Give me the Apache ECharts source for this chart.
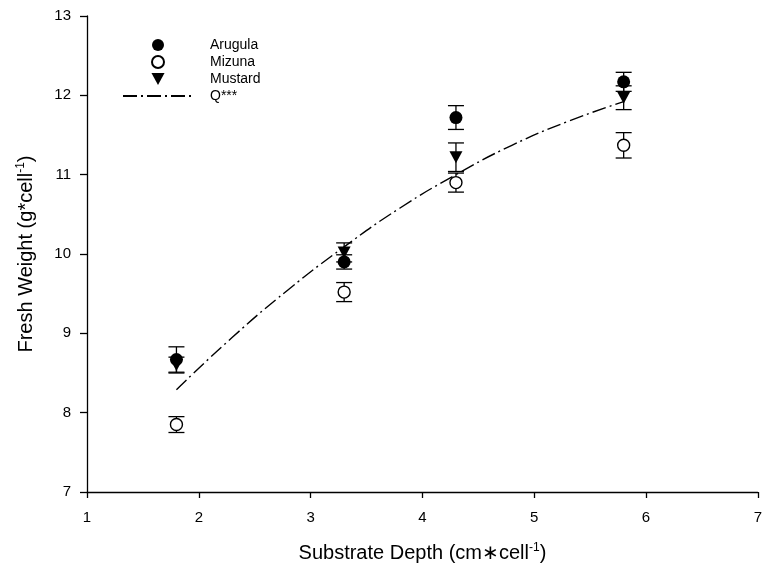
<!DOCTYPE html>
<html>
<head>
<meta charset="utf-8">
<script src="https://cdn.jsdelivr.net/npm/echarts@6/dist/echarts.min.js"></script>
<style>
  html, body { margin: 0; padding: 0; background: #fff; }
  #main { width: 765px; height: 574px; }
</style>
</head>
<body>
<div id="main"></div>
<script>
// substrate depth (cm per cell)
const depths = [1.8, 3.3, 4.3, 5.8];
// means and standard errors
const arugulaMean = [8.67, 9.90, 11.72, 12.17];
const arugulaErr = [0.16, 0.09, 0.15, 0.12];
const mizunaMean = [7.85, 9.52, 10.90, 11.37];
const mizunaErr = [0.10, 0.12, 0.12, 0.16];
const mustardMean = [8.60, 10.02, 11.22, 11.97];
const mustardErr = [0.10, 0.12, 0.18, 0.15];
// quadratic fit line (Q***)
const fitX = [1.8, 2.3, 2.8, 3.3, 3.8, 4.3, 4.8, 5.3, 5.8];
const fitY = [8.29, 8.95, 9.55, 10.09, 10.58, 11.00, 11.37, 11.67, 11.92];

const font = 'Liberation Sans, Arial, sans-serif';

function pairs(xs, ys) {
    return xs.map((x, i) => [x, ys[i]]);
}
function errData(means, errs) {
    return depths.map((x, i) => [x, means[i] - errs[i], means[i] + errs[i]]);
}

// 误差线
function renderErr(params, api) {
    var x = api.value(0);
    var lo = api.coord([x, api.value(1)]);
    var hi = api.coord([x, api.value(2)]);
    var w = 8;
    var style = { stroke: '#000', lineWidth: 1.3 };
    return {
        type: 'group',
        children: [
            { type: 'line', shape: { x1: lo[0], y1: lo[1], x2: hi[0], y2: hi[1] }, style: style },
            { type: 'line', shape: { x1: lo[0] - w, y1: lo[1], x2: lo[0] + w, y2: lo[1] }, style: style },
            { type: 'line', shape: { x1: hi[0] - w, y1: hi[1], x2: hi[0] + w, y2: hi[1] }, style: style }
        ]
    };
}

function errSeries(name, means, errs) {
    return {
        name: name,
        type: 'custom',
        renderItem: renderErr,
        data: errData(means, errs),
        z: 1,
        silent: true
    };
}

var nameRich = {
    a: { fontFamily: font, fontSize: 20, color: '#000' },
    s: { fontFamily: font, fontSize: 12, color: '#000', verticalAlign: 'top', padding: [0, 0, 10, 0] }
};

var myChart = echarts.init(document.getElementById('main'));
var option = {
    animation: false,
    backgroundColor: '#fff',
    grid: { left: 87, top: 16, right: 1, bottom: 82, containLabel: false },
    legend: {
        orient: 'vertical',
        left: 117,
        top: 33,
        itemWidth: 70,
        itemHeight: 12,
        itemGap: 3,
        symbolKeepAspect: true,
        data: [
            { name: 'Arugula' },
            { name: 'Mizuna' },
            { name: 'Mustard', icon: 'path://M0,0L12,0L6,11Z' },
            { name: 'Q***', itemStyle: { opacity: 0 } }
        ],
        textStyle: { fontFamily: font, fontSize: 14, color: '#000', padding: [0, 0, 0, 12] }
    },
    xAxis: {
        type: 'value',
        min: 1, max: 7, interval: 1,
        name: '{a|Substrate Depth (cm∗cell}{s|-1}{a|)}',
        nameLocation: 'middle',
        nameGap: 50,
        nameTextStyle: { rich: nameRich },
        axisLine: { lineStyle: { color: '#000', width: 1.3 } },
        axisTick: { show: true, inside: false, length: 6, lineStyle: { color: '#000', width: 1.3 } },
        axisLabel: { fontFamily: font, fontSize: 15, color: '#000', margin: 18 },
        splitLine: { show: false }
    },
    yAxis: {
        type: 'value',
        min: 7, max: 13, interval: 1,
        name: '{a|Fresh Weight (g*cell}{s|-1}{a|)}',
        nameLocation: 'middle',
        nameRotate: 90,
        nameGap: 50,
        nameTextStyle: { rich: nameRich },
        axisLine: { show: true, lineStyle: { color: '#000', width: 1.3 } },
        axisTick: { show: true, inside: false, length: 7, lineStyle: { color: '#000', width: 1.3 } },
        axisLabel: { fontFamily: font, fontSize: 15, color: '#000', margin: 16 },
        splitLine: { show: false }
    },
    series: [
        {
            name: 'Q***',
            type: 'line',
            data: pairs(fitX, fitY),
            smooth: true,
            symbol: 'none',
            z: 2,
            lineStyle: { color: '#000', width: 1.4, type: [14, 4, 2, 4] },
            itemStyle: { color: '#000' }
        },
        errSeries('errA', arugulaMean, arugulaErr),
        errSeries('errZ', mizunaMean, mizunaErr),
        errSeries('errM', mustardMean, mustardErr),
        {
            name: 'Arugula',
            type: 'scatter',
            data: pairs(depths, arugulaMean),
            symbol: 'circle',
            symbolSize: 13,
            z: 5,
            itemStyle: { color: '#000', opacity: 1 }
        },
        {
            name: 'Mizuna',
            type: 'scatter',
            data: pairs(depths, mizunaMean),
            symbol: 'circle',
            symbolSize: 12,
            z: 5,
            itemStyle: { color: '#fff', borderColor: '#000', borderWidth: 1.4, opacity: 1 }
        },
        {
            name: 'Mustard',
            type: 'scatter',
            data: pairs(depths, mustardMean),
            symbol: 'path://M0,0L12,0L6,11Z',
            symbolSize: [13, 12],
            z: 4,
            itemStyle: { color: '#000', opacity: 1 }
        }
    ]
};
myChart.setOption(option);
window.onresize = function () {
    myChart.resize();
};
</script>
</body>
</html>
